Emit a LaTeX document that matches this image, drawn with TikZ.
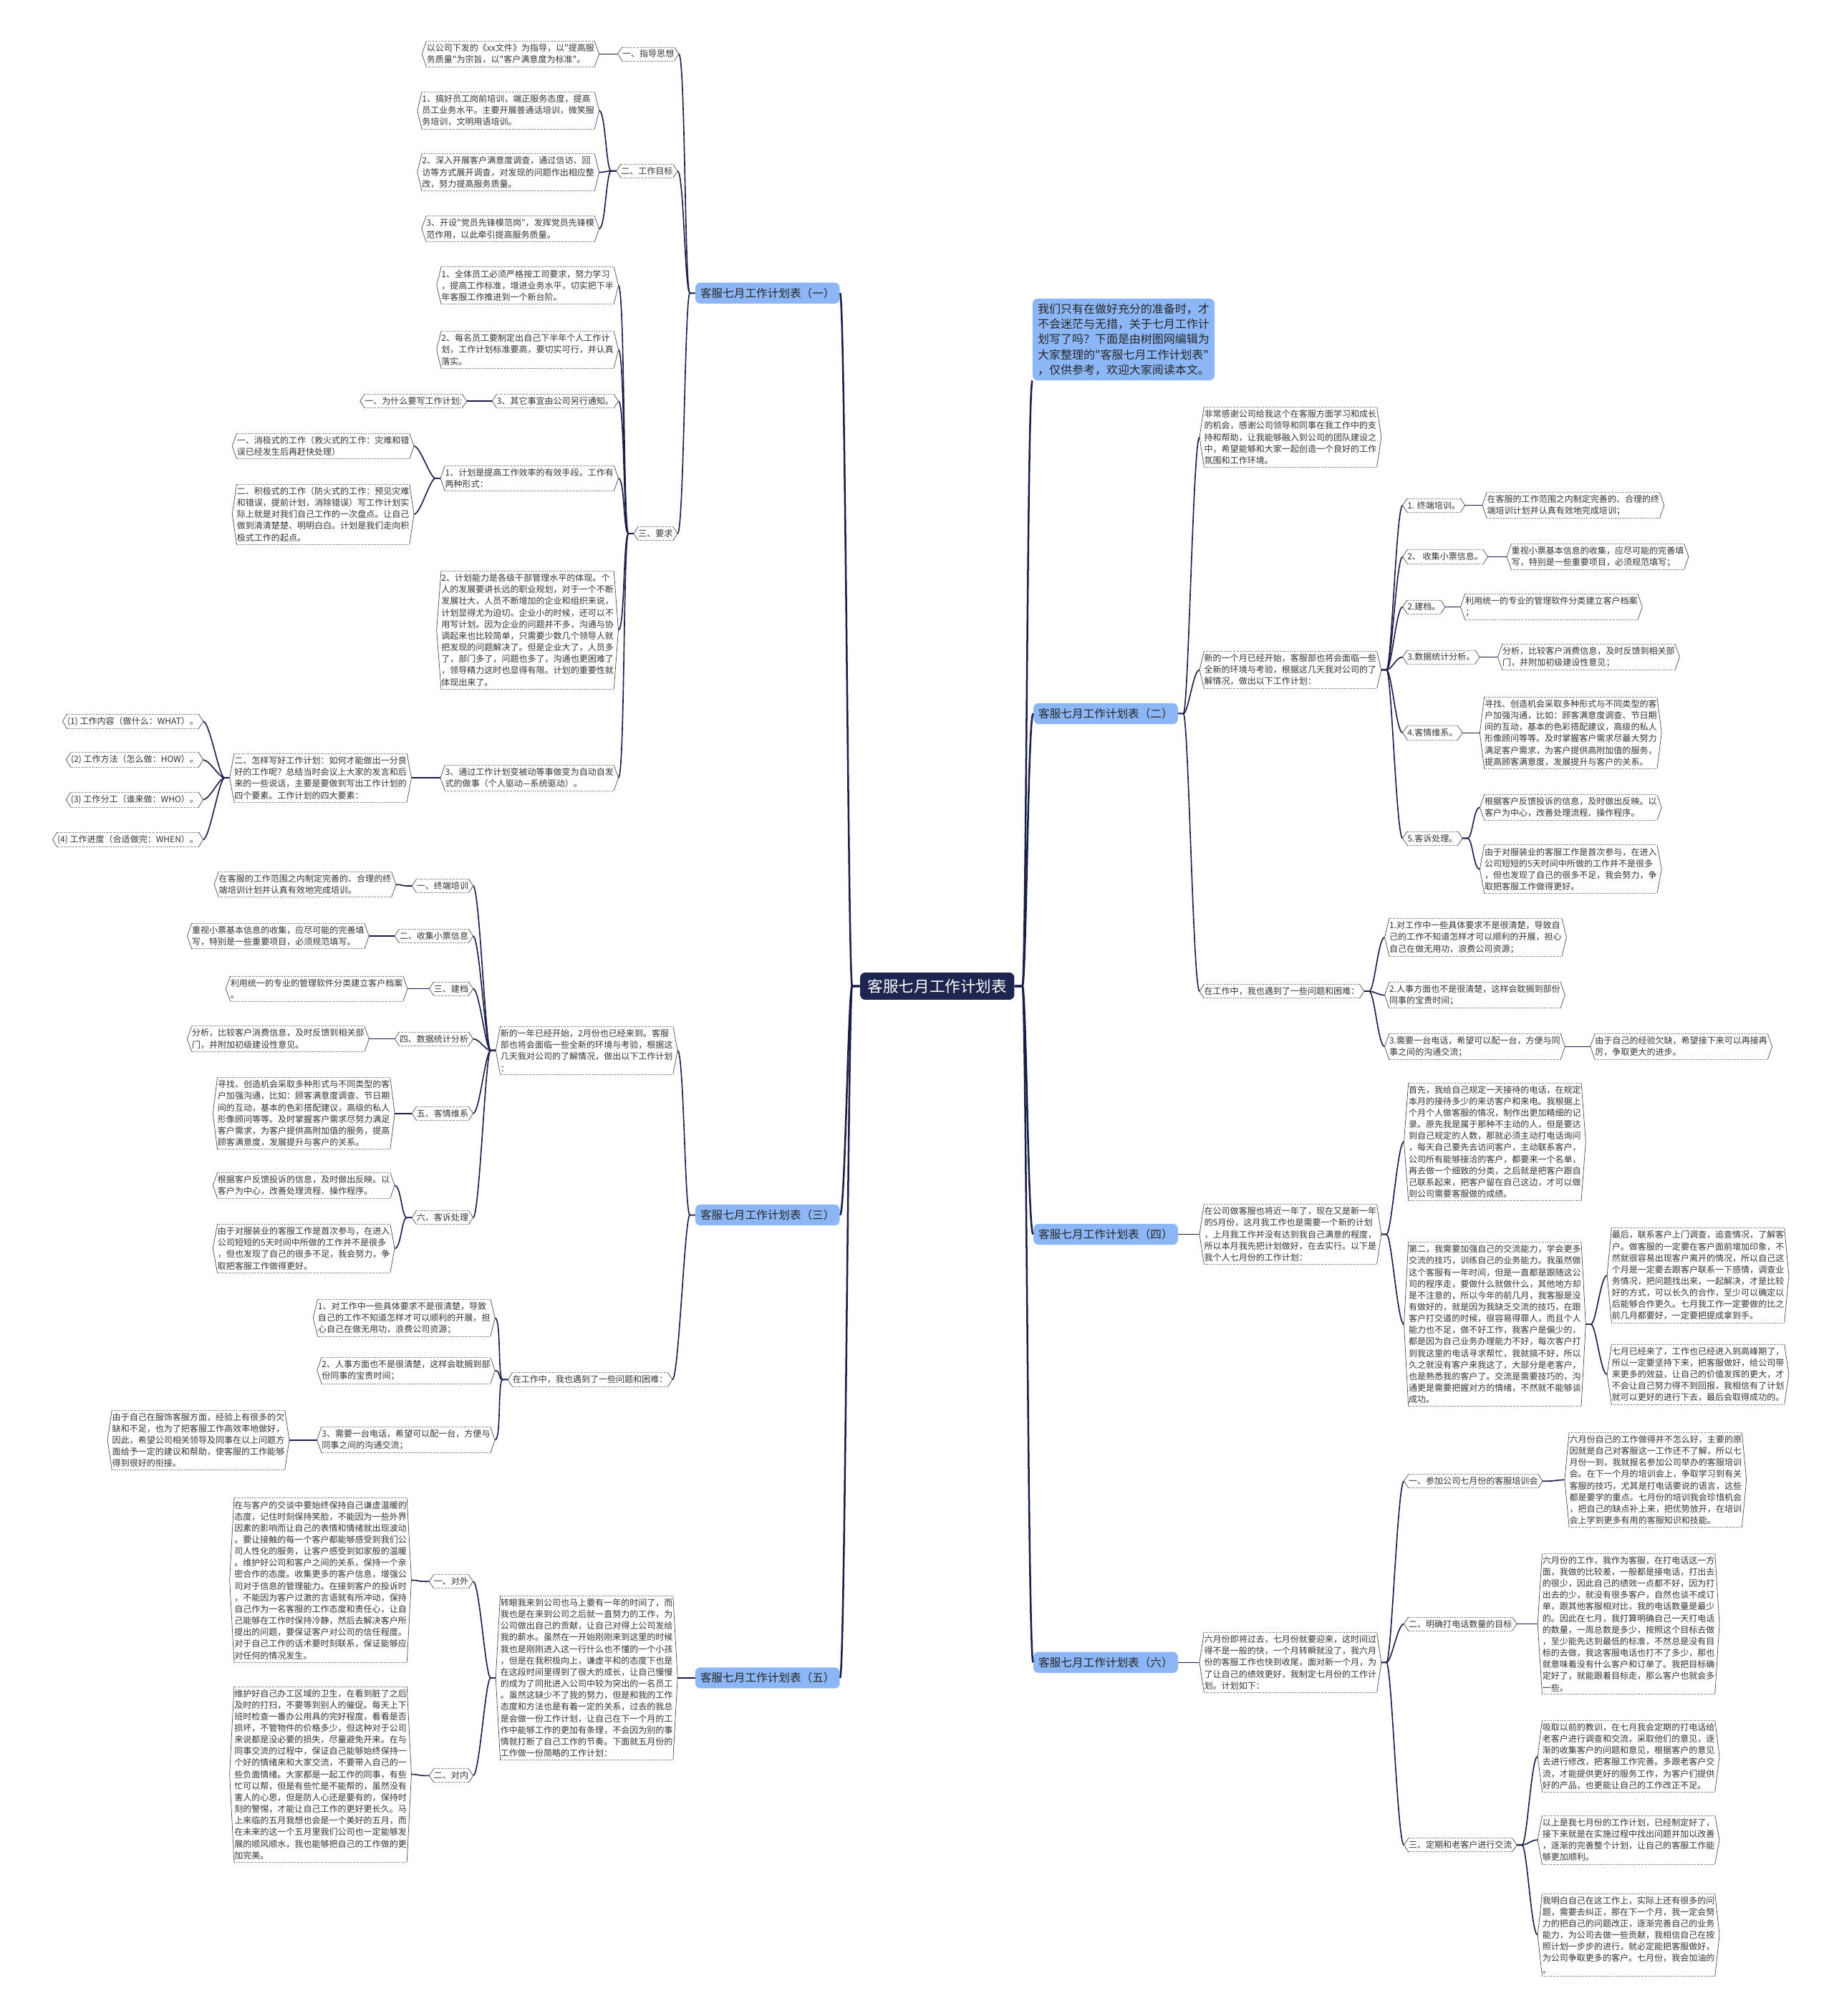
\documentclass[tikz,border=0pt]{standalone}
\usepackage{fontspec}
\setmainfont{Noto Sans CJK SC}[Ligatures=TeXOff]
\usepackage{xcolor}
\usepackage{tikz}
\usetikzlibrary{positioning, calc}
\definecolor{RootNavy}{RGB}{30,38,80}
\definecolor{PlanBlue}{RGB}{140,182,245}
\definecolor{LinkNavy}{RGB}{26,28,72}

\newcommand{\linkL}[2]{\draw[link] (#1.west) -- ++(-4,0) .. controls +(-4,0) and +(5,0) .. (#2.east);}
\newcommand{\linkR}[2]{\draw[link] (#1.east) -- ++(4,0) .. controls +(4,0) and +(-5,0) .. (#2.west);}

\begin{document}
\begin{tikzpicture}[x=1pt, y=-1pt,
    txt/.style={inner xsep=3.5pt, inner ysep=2pt, align=left, text=black!80, font=\fontsize{6.7}{9}\selectfont},
    rootbox/.style={fill=RootNavy, text=white, rounded corners=4pt, inner xsep=6pt, inner ysep=5pt, font=\fontsize{12}{14}\selectfont},
    planbox/.style={fill=PlanBlue, text=black!85, rounded corners=4pt, inner xsep=4pt, inner ysep=4pt, font=\fontsize{8.7}{10}\selectfont},
    link/.style={draw=LinkNavy, line width=0.9pt},
    trunk/.style={draw=LinkNavy, line width=1.4pt},
    hexrim/.style={draw=black!70, line width=0.4pt, densely dotted},
    hexside/.style={draw=black!70, line width=0.4pt}]
    \useasboundingbox (0,0) rectangle (1426,1568);

    % 中心主题
    \node[rootbox] (root) at (729,767) {客服七月工作计划表};
    \node[planbox] (p1) at (597,228) {客服七月工作计划表（一）};
    \node[planbox] (p3) at (597,945) {客服七月工作计划表（三）};
    \node[planbox] (p5) at (597,1305) {客服七月工作计划表（五）};
    \node[planbox] (p2) at (860,555) {客服七月工作计划表（二）};
    \node[planbox] (p4) at (860,960) {客服七月工作计划表（四）};
    \node[planbox] (p6) at (860,1293) {客服七月工作计划表（六）};
    \node[planbox, anchor=north west, align=left, font=\fontsize{8.9}{11.8}\selectfont] (intro) at (803,232) {我们只有在做好充分的准备时，才\\不会迷茫与无措，关于七月工作计\\划写了吗？下面是由树图网编辑为\\大家整理的"客服七月工作计划表"\\，仅供参考，欢迎大家阅读本文。};

    % 计划表（一）
    \node[txt, anchor=east] (a1) at (528,42) {一、指导思想};
    \node[txt, anchor=east] (a1t) at (466,42) {以公司下发的《xx文件》为指导，以"提高服\\务质量"为宗旨，以"客户满意度为标准"。};
    \node[txt, anchor=east] (a2) at (527,133) {二、工作目标};
    \node[txt, anchor=east] (a2x) at (466,86) {1、搞好员工岗前培训，端正服务态度，提高\\员工业务水平。主要开展普通话培训，微笑服\\务培训，文明用语培训。};
    \node[txt, anchor=east] (a2y) at (466,134) {2、深入开展客户满意度调查，通过信访、回\\访等方式展开调查，对发现的问题作出相应整\\改，努力提高服务质量。};
    \node[txt, anchor=east] (a2z) at (466,178) {3、开设"党员先锋模范岗"，发挥党员先锋模\\范作用，以此牵引提高服务质量。};
    \node[txt, anchor=east] (a3) at (527,415) {三、要求};
    \node[txt, anchor=east] (a3a) at (481,222) {1、全体员工必须严格按工司要求，努力学习\\，提高工作标准，增进业务水平，切实把下半\\年客服工作推进到一个新台阶。};
    \node[txt, anchor=east] (a3b) at (481,272) {2、每名员工要制定出自己下半年个人工作计\\划，工作计划标准要高，要切实可行，并认真\\落实。};
    \node[txt, anchor=east] (a3c) at (481,312) {3、其它事宜由公司另行通知。};
    \node[txt, anchor=east] (a3cw) at (363,312) {一、为什么要写工作计划:};
    \node[txt, anchor=east] (a3d) at (481,372) {1、计划是提高工作效率的有效手段。工作有\\两种形式：};
    \node[txt, anchor=east] (a3dx) at (322,347) {一、消极式的工作（救火式的工作：灾难和错\\误已经发生后再赶快处理）};
    \node[txt, anchor=east] (a3dy) at (322,400) {二、积极式的工作（防火式的工作：预见灾难\\和错误，提前计划，消除错误）写工作计划实\\际上就是对我们自己工作的一次盘点。让自己\\做到清清楚楚、明明白白。计划是我们走向积\\极式工作的起点。};
    \node[txt, anchor=east] (a3e) at (481,490) {2、计划能力是各级干部管理水平的体现。个\\人的发展要讲长远的职业规划，对于一个不断\\发展壮大，人员不断增加的企业和组织来说，\\计划显得尤为迫切。企业小的时候，还可以不\\用写计划。因为企业的问题并不多，沟通与协\\调起来也比较简单，只需要少数几个领导人就\\把发现的问题解决了。但是企业大了，人员多\\了，部门多了，问题也多了，沟通也更困难了\\，领导精力这时也显得有限。计划的重要性就\\体现出来了。};
    \node[txt, anchor=east] (a3f) at (481,605) {3、通过工作计划变被动等事做变为自动自发\\式的做事（个人驱动—系统驱动）。};
    \node[txt, anchor=east] (a3fw) at (320,605) {二、怎样写好工作计划：如何才能做出一分良\\好的工作呢？总结当时会议上大家的发言和后\\来的一些说话，主要是要做到写出工作计划的\\四个要素。工作计划的四大要素：};
    \node[txt, anchor=east] (w1) at (158,561) {(1) 工作内容（做什么：WHAT）。};
    \node[txt, anchor=east] (w2) at (158,591) {(2) 工作方法（怎么做：HOW）。};
    \node[txt, anchor=east] (w3) at (158,622) {(3) 工作分工（谁来做：WHO）。};
    \node[txt, anchor=east] (w4) at (158,653) {(4) 工作进度（合适做完：WHEN）。};

    % 计划表（三）
    \node[txt, anchor=east] (b0) at (527,817) {新的一年已经开始，2月份也已经来到。客服\\部也将会面临一些全新的环境与考验，根据这\\几天我对公司的了解情况，做出以下工作计划\\：};
    \node[txt, anchor=east] (b1) at (368,689) {一、终端培训};
    \node[txt, anchor=east] (b1t) at (308,688) {在客服的工作范围之内制定完善的、合理的终\\端培训计划并认真有效地完成培训。};
    \node[txt, anchor=east] (b2) at (368,728) {二、收集小票信息};
    \node[txt, anchor=east] (b2t) at (287,728) {重视小票基本信息的收集，应尽可能的完善填\\写，特别是一些重要项目，必须规范填写。};
    \node[txt, anchor=east] (b3) at (368,769) {三、建档};
    \node[txt, anchor=east] (b3t) at (317,769) {利用统一的专业的管理软件分类建立客户档案\\。};
    \node[txt, anchor=east] (b4) at (368,808) {四、数据统计分析};
    \node[txt, anchor=east] (b4t) at (287,808) {分析，比较客户消费信息，及时反馈到相关部\\门，并附加初级建设性意见。};
    \node[txt, anchor=east] (b5) at (368,866) {五、客情维系};
    \node[txt, anchor=east] (b5t) at (307,866) {寻找、创造机会采取多种形式与不同类型的客\\户加强沟通，比如：顾客满意度调查、节日期\\间的互动，基本的色彩搭配建议，高级的私人\\形像顾问等等。及时掌握客户需求尽努力满足\\客户需求，为客户提供高附加值的服务，提高\\顾客满意度，发展提升与客户的关系。};
    \node[txt, anchor=east] (b6) at (368,947) {六、客诉处理};
    \node[txt, anchor=east] (b6x) at (307,922) {根据客户反馈投诉的信息，及时做出反映。以\\客户为中心，改善处理流程、操作程序。};
    \node[txt, anchor=east] (b6y) at (307,971) {由于对服装业的客服工作是首次参与，在进入\\公司短短的5天时间中所做的工作并不是很多\\，但也发现了自己的很多不足，我会努力，争\\取把客服工作做得更好。};
    \node[txt, anchor=east] (c0) at (523,1073) {在工作中，我也遇到了一些问题和困难：};
    \node[txt, anchor=east] (c1) at (385,1025) {1、对工作中一些具体要求不是很清楚，导致\\自己的工作不知道怎样才可以顺利的开展，担\\心自己在做无用功，浪费公司资源；};
    \node[txt, anchor=east] (c2) at (385,1066) {2、人事方面也不是很清楚，这样会耽搁到部\\份同事的宝贵时间；};
    \node[txt, anchor=east] (c3) at (385,1120) {3、需要一台电话，希望可以配一台，方便与\\同事之间的沟通交流；};
    \node[txt, anchor=east] (c3t) at (225,1120) {由于自己在服饰客服方面，经验上有很多的欠\\缺和不足，也为了把客服工作高效率地做好，\\因此，希望公司相关领导及同事在以上问题方\\面给予一定的建议和帮助，使客服的工作能够\\得到很好的衔接。};

    % 计划表（五）
    \node[txt, anchor=east] (d0) at (527,1305) {转眼我来到公司也马上要有一年的时间了，而\\我也是在来到公司之后就一直努力的工作，为\\公司做出自己的贡献，让自己对得上公司发给\\我的薪水。虽然在一开始刚刚来到这里的时候\\我也是刚刚进入这一行什么也不懂的一个小孩\\，但是在我积极向上，谦虚平和的态度下也是\\在这段时间里得到了很大的成长，让自己慢慢\\的成为了同批进入公司中较为突出的一名员工\\。虽然这缺少不了我的努力，但是和我的工作\\态度和方法也是有着一定的关系，过去的我总\\是会做一份工作计划，让自己在下一个月的工\\作中能够工作的更加有条理，不会因为别的事\\情就打断了自己工作的节奏。下面就五月份的\\工作做一份简略的工作计划：};
    \node[txt, anchor=east] (d1) at (368,1230) {一、对外};
    \node[txt, anchor=east] (d1t) at (320,1229) {在与客户的交谈中要始终保持自己谦虚温暖的\\态度，记住时刻保持笑脸，不能因为一些外界\\因素的影响而让自己的表情和情绪就出现波动\\。要让接触的每一个客户都能够感受到我们公\\司人性化的服务，让客户感受到如家般的温暖\\。维护好公司和客户之间的关系，保持一个亲\\密合作的态度。收集更多的客户信息，增强公\\司对于信息的管理能力。在接到客户的投诉时\\，不能因为客户过激的言语就有所冲动，保持\\自己作为一名客服的工作态度和责任心，让自\\己能够在工作时保持冷静，然后去解决客户所\\提出的问题，要保证客户对公司的信任程度。\\对于自己工作的话术要时刻联系，保证能够应\\对任何的情况发生。};
    \node[txt, anchor=east] (d2) at (368,1381) {二、对内};
    \node[txt, anchor=east] (d2t) at (320,1380) {维护好自己办工区域的卫生，在看到脏了之后\\及时的打扫，不要等到别人的催促。每天上下\\班时检查一番办公用具的完好程度，看看是否\\损坏，不管物件的价格多少，但这种对于公司\\来说都是没必要的损失，尽量避免开来。在与\\同事交流的过程中，保证自己能够始终保持一\\个好的情绪来和大家交流，不要带入自己的一\\些负面情绪。大家都是一起工作的同事，有些\\忙可以帮，但是有些忙是不能帮的，虽然没有\\害人的心思，但是防人心还是要有的，保持时\\刻的警惕，才能让自己工作的更好更长久。马\\上来临的五月我想也会是一个美好的五月，而\\在未来的这一个五月里我们公司也一定能够发\\展的顺风顺水，我也能够把自己的工作做的更\\加完美。};

    % 计划表（二）
    \node[txt, anchor=west] (e1) at (933,340) {非常感谢公司给我这个在客服方面学习和成长\\的机会，感谢公司领导和同事在我工作中的支\\持和帮助，让我能够融入到公司的团队建设之\\中，希望能够和大家一起创造一个良好的工作\\氛围和工作环境。};
    \node[txt, anchor=west] (e2) at (933,521) {新的一个月已经开始，客服部也将会面临一些\\全新的环境与考验，根据这几天我对公司的了\\解情况，做出以下工作计划：};
    \node[txt, anchor=west] (f1) at (1091,393) {1. 终端培训。};
    \node[txt, anchor=west] (f1t) at (1153,393) {在客服的工作范围之内制定完善的、合理的终\\端培训计划并认真有效地完成培训；};
    \node[txt, anchor=west] (f2) at (1091,433) {2、 收集小票信息。};
    \node[txt, anchor=west] (f2t) at (1172,433) {重视小票基本信息的收集，应尽可能的完善填\\写，特别是一些重要项目，必须规范填写；};
    \node[txt, anchor=west] (f3) at (1091,472) {2.建档。};
    \node[txt, anchor=west] (f3t) at (1136,472) {利用统一的专业的管理软件分类建立客户档案\\；};
    \node[txt, anchor=west] (f4) at (1091,511) {3.数据统计分析。};
    \node[txt, anchor=west] (f4t) at (1165,511) {分析，比较客户消费信息，及时反馈到相关部\\门，并附加初级建设性意见；};
    \node[txt, anchor=west] (f5) at (1091,570) {4.客情维系。};
    \node[txt, anchor=west] (f5t) at (1151,570) {寻找、创造机会采取多种形式与不同类型的客\\户加强沟通，比如：顾客满意度调查、节日期\\间的互动，基本的色彩搭配建议，高级的私人\\形像顾问等等。及时掌握客户需求尽最大努力\\满足客户需求，为客户提供高附加值的服务，\\提高顾客满意度，发展提升与客户的关系。};
    \node[txt, anchor=west] (f6) at (1091,652) {5.客诉处理。};
    \node[txt, anchor=west] (f6x) at (1151,628) {根据客户反馈投诉的信息，及时做出反映。以\\客户为中心，改善处理流程、操作程序。};
    \node[txt, anchor=west] (f6y) at (1151,676) {由于对服装业的客服工作是首次参与，在进入\\公司短短的5天时间中所做的工作并不是很多\\，但也发现了自己的很多不足，我会努力，争\\取把客服工作做得更好。};
    \node[txt, anchor=west] (e3) at (933,771) {在工作中，我也遇到了一些问题和困难：};
    \node[txt, anchor=west] (g1) at (1077,729) {1.对工作中一些具体要求不是很清楚，导致自\\己的工作不知道怎样才可以顺利的开展，担心\\自己在做无用功，浪费公司资源；};
    \node[txt, anchor=west] (g2) at (1077,774) {2.人事方面也不是很清楚，这样会耽搁到部份\\同事的宝贵时间；};
    \node[txt, anchor=west] (g3) at (1077,814) {3.需要一台电话，希望可以配一台，方便与同\\事之间的沟通交流；};
    \node[txt, anchor=west] (g3t) at (1237,814) {由于自己的经验欠缺，希望接下来可以再接再\\厉，争取更大的进步。};

    % 计划表（四）
    \node[txt, anchor=west] (h0) at (933,960) {在公司做客服也将近一年了，现在又是新一年\\的5月份，这月我工作也是需要一个新的计划\\，上月我工作并没有达到我自己满意的程度，\\所以本月我先把计划做好，在去实行。以下是\\我个人七月份的工作计划：};
    \node[txt, anchor=west] (h1) at (1092,888) {首先，我给自己规定一天接待的电话，在规定\\本月的接待多少的来访客户和来电。我根据上\\个月个人做客服的情况，制作出更加精细的记\\录。原先我是属于那种不主动的人，但是要达\\到自己规定的人数，那就必须主动打电话询问\\，每天自己要先去访问客户，主动联系客户，\\公司所有能够接洽的客户，都要来一个名单，\\再去做一个细致的分类，之后就是把客户跟自\\己联系起来，把客户留在自己这边，才可以做\\到公司需要客服做的成绩。};
    \node[txt, anchor=west] (h2) at (1092,1030) {第二，我需要加强自己的交流能力，学会更多\\交流的技巧，训练自己的业务能力。我虽然做\\这个客服有一年时间，但是一直都是跟随这公\\司的程序走，要做什么就做什么，其他地方却\\是不注意的，所以今年的前几月，我客服是没\\有做好的，就是因为我缺乏交流的技巧，在跟\\客户打交道的时候，很容易得罪人，而且个人\\能力也不足，做不好工作，我客户是偏少的，\\都是因为自己业务办理能力不好，每次客户打\\到我这里的电话寻求帮忙，我就搞不好，所以\\久之就没有客户来我这了，大部分是老客户，\\也是熟悉我的客户了。交流是需要技巧的，沟\\通更是需要把握对方的情绪，不然就不能够谈\\成功。};
    \node[txt, anchor=west] (h2x) at (1250,992) {最后，联系客户上门调查，追查情况，了解客\\户。做客服的一定要在客户面前增加印象，不\\然就很容易出现客户离开的情况，所以自己这\\个月是一定要去跟客户联系一下感情，调查业\\务情况，把问题找出来，一起解决，才是比较\\好的方式，可以长久的合作，至少可以确定以\\后能够合作更久。七月我工作一定要做的比之\\前几月都要好，一定要把提成拿到手。};
    \node[txt, anchor=west] (h2y) at (1250,1069) {七月已经来了，工作也已经进入到高峰期了，\\所以一定要坚持下来，把客服做好，给公司带\\来更多的效益，让自己的价值发挥的更大，才\\不会让自己努力得不到回报，我相信有了计划\\就可以更好的进行下去，最后会取得成功的。};

    % 计划表（六）
    \node[txt, anchor=west] (k0) at (933,1293) {六月份即将过去，七月份就要迎来，这时间过\\得不是一般的快，一个月转瞬就没了，我六月\\份的客服工作也快到收尾，面对新一个月，为\\了让自己的绩效更好，我制定七月份的工作计\\划。计划如下：};
    \node[txt, anchor=west] (k1) at (1092,1152) {一、参加公司七月份的客服培训会};
    \node[txt, anchor=west] (k1t) at (1217,1151) {六月份自己的工作做得并不怎么好，主要的原\\因就是自己对客服这一工作还不了解，所以七\\月份一到，我就报名参加公司举办的客服培训\\会。在下一个月的培训会上，争取学习到有关\\客服的技巧，尤其是打电话要说的语言，这些\\都是要学的重点。七月份的培训我会珍惜机会\\，把自己的缺点补上来，把优势放开，在培训\\会上学到更多有用的客服知识和技能。};
    \node[txt, anchor=west] (k2) at (1092,1263) {二、明确打电话数量的目标};
    \node[txt, anchor=west] (k2t) at (1196,1263) {六月份的工作，我作为客服，在打电话这一方\\面，我做的比较差，一般都是接电话，打出去\\的很少，因此自己的绩效一点都不好，因为打\\出去的少，就没有很多客户，自然也谈不成订\\单，跟其他客服相对比，我的电话数量是最少\\的。因此在七月，我打算明确自己一天打电话\\的数量，一周总数是多少，按照这个目标去做\\，至少能先达到最低的标准，不然总是没有目\\标的去做，我这客服电话也打不了多少，那也\\就意味着没有什么客户和订单了。我把目标确\\定好了，就能跟着目标走，那么客户也就会多\\一些。};
    \node[txt, anchor=west] (k3) at (1092,1435) {三、定期和老客户进行交流};
    \node[txt, anchor=west] (k3x) at (1196,1366) {吸取以前的教训，在七月我会定期的打电话给\\老客户进行调查和交流，采取他们的意见，逐\\渐的收集客户的问题和意见，根据客户的意见\\去进行修改，把客服工作完善。多跟老客户交\\流，才能提供更好的服务工作，为客户们提供\\好的产品，也更能让自己的工作改正不足。};
    \node[txt, anchor=west] (k3y) at (1196,1431) {以上是我七月份的工作计划，已经制定好了，\\接下来就是在实施过程中找出问题并加以改善\\，逐渐的完善整个计划，让自己的客服工作能\\够更加顺利。};
    \node[txt, anchor=west] (k3z) at (1196,1505) {我明白自己在这工作上，实际上还有很多的问\\题，需要去纠正，那在下一个月，我一定会努\\力的把自己的问题改正，逐渐完善自己的业务\\能力，为公司去做一些贡献，我相信自己在按\\照计划一步步的进行，就必定能把客服做好，\\为公司争取更多的客户。七月份，我会加油的\\。};

    % 主干连线
    \foreach \kid in {p1,p3,p5}
        \draw[trunk] (root.west) -- ++(-6,0) .. controls +(-3,0) and +(4,0) .. (\kid.east);
    \foreach \kid in {p2,p4,p6}
        \draw[trunk] (root.east) -- ++(6,0) .. controls +(3,0) and +(-4,0) .. (\kid.west);
    \draw[trunk] (root.east) -- ++(6,0) .. controls +(3,0) and +(-4,0) .. (intro.south west);

    % 分支连线
    \foreach \up/\kid in {p1/a1, p1/a2, p1/a3, a1/a1t, a2/a2x, a2/a2y, a2/a2z, a3/a3a, a3/a3b, a3/a3c, a3/a3d, a3/a3e, a3/a3f, a3c/a3cw, a3d/a3dx, a3d/a3dy, a3f/a3fw, a3fw/w1, a3fw/w2, a3fw/w3, a3fw/w4, p3/b0, p3/c0, b0/b1, b0/b2, b0/b3, b0/b4, b0/b5, b0/b6, b1/b1t, b2/b2t, b3/b3t, b4/b4t, b5/b5t, b6/b6x, b6/b6y, c0/c1, c0/c2, c0/c3, c3/c3t, p5/d0, d0/d1, d0/d2, d1/d1t, d2/d2t}
        {\linkL{\up}{\kid}}
    \foreach \up/\kid in {p2/e1, p2/e2, p2/e3, e2/f1, e2/f2, e2/f3, e2/f4, e2/f5, e2/f6, f1/f1t, f2/f2t, f3/f3t, f4/f4t, f5/f5t, f6/f6x, f6/f6y, e3/g1, e3/g2, e3/g3, g3/g3t, p4/h0, h0/h1, h0/h2, h2/h2x, h2/h2y, p6/k0, k0/k1, k0/k2, k0/k3, k1/k1t, k2/k2t, k3/k3x, k3/k3y, k3/k3z}
        {\linkR{\up}{\kid}}

    % 六边形虚线框
    \foreach \n in {a1, a1t, a2, a2x, a2y, a2z, a3, a3a, a3b, a3c, a3cw, a3d, a3dx, a3dy, a3e, a3f, a3fw, w1, w2, w3, w4, b0, b1, b1t, b2, b2t, b3, b3t, b4, b4t, b5, b5t, b6, b6x, b6y, c0, c1, c2, c3, c3t, d0, d1, d1t, d2, d2t, e1, e2, e3, f1, f1t, f2, f2t, f3, f3t, f4, f4t, f5, f5t, f6, f6x, f6y, g1, g2, g3, g3t, h0, h1, h2, h2x, h2y, k0, k1, k1t, k2, k2t, k3, k3x, k3y, k3z} {
        \draw[hexrim] ([xshift=3.5pt]\n.north west) -- ([xshift=-3.5pt]\n.north east)
                      ([xshift=3.5pt]\n.south west) -- ([xshift=-3.5pt]\n.south east);
        \draw[hexside] ([xshift=3.5pt]\n.north west) -- (\n.west) -- ([xshift=3.5pt]\n.south west)
                       ([xshift=-3.5pt]\n.north east) -- (\n.east) -- ([xshift=-3.5pt]\n.south east);
    }
\end{tikzpicture}
\end{document}
